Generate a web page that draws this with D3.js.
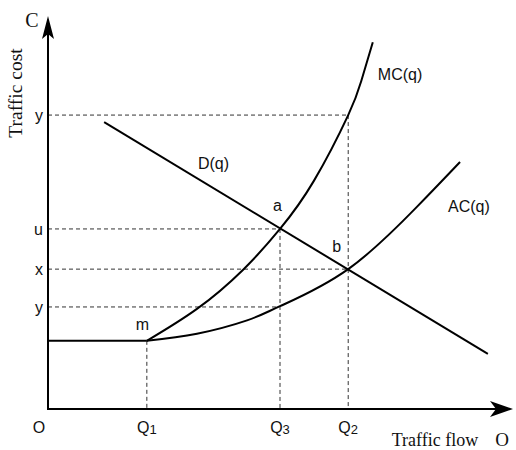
<!DOCTYPE html>
<html><head><meta charset="utf-8">
<script src="https://cdn.jsdelivr.net/npm/d3@7"></script>
<style>body{margin:0;background:#fff}svg{display:block}</style>
</head><body>
<svg id="c" width="516" height="450"></svg>
<script>
// ---- data (abstract units, x: 0..100 flow, y: 0..100 cost) ----
const flatLine = [[0, 17.3], [21.3, 17.3]];
const mcCurve = [[21.3,17.3],[32.1,25.4],[42.0,35.3],[50.0,45.7],[57.3,57.9],[64.7,74.6],[67.5,83.2],[70.0,93.1]];
const acCurve = [[21.3,17.3],[32.1,19.1],[42.9,22.5],[50.0,26.1],[64.7,35.5],[79.5,51.3],[88.8,62.7]];
const demandLine = [[12.1,72.8],[94.8,14.0]];
const yTickValues = [74.6, 45.7, 35.5, 25.9];
const yTickLabels = ["y", "u", "x", "y"];
const xTickValues = [21.3, 50.0, 64.7];
const xTickMain = ["Q", "Q", "Q"];
const xTickSub = ["1", "3", "2"];
// dashed guides: horizontal [y, xEnd], vertical [x, yTop]
const hGuides = [[74.6, 64.7], [45.7, 50.0], [35.5, 64.7], [25.9, 49.2]];
const vGuides = [[21.3, 17.3], [50.0, 45.7], [64.7, 74.6]];
const pointLabels = [
  {t:"m", x:21.3, y:17.3, dx:-11, dy:-11},
  {t:"a", x:50.0, y:45.7, dx:-7, dy:-18},
  {t:"b", x:64.7, y:35.5, dx:-16, dy:-17},
  {t:"D(q)", x:33.6, y:59.9, dx:-6, dy:-4},
  {t:"MC(q)", x:70.0, y:93.1, dx:5, dy:38},
  {t:"AC(q)", x:88.8, y:62.7, dx:-12, dy:50}
];

const svg = d3.select("#c");
const x = d3.scaleLinear().domain([0, 100]).range([48, 512]);
const y = d3.scaleLinear().domain([0, 100]).range([409, 15]);

const sans = "'Liberation Sans', Arial, sans-serif";
const serif = "'Liberation Serif', 'Times New Roman', serif";

// dashed guides
svg.append("g").selectAll("line.h").data(hGuides).join("line")
  .attr("x1", x(0)).attr("x2", d => x(d[1]))
  .attr("y1", d => y(d[0])).attr("y2", d => y(d[0]))
  .attr("stroke", "#333").attr("stroke-width", 1).attr("stroke-dasharray", "4,3");
svg.append("g").selectAll("line.v").data(vGuides).join("line")
  .attr("x1", d => x(d[0])).attr("x2", d => x(d[0]))
  .attr("y1", d => y(d[1])).attr("y2", y(0))
  .attr("stroke", "#333").attr("stroke-width", 1).attr("stroke-dasharray", "4,3");

// axes (lines with arrows)
svg.append("line").attr("x1", x(0)).attr("y1", y(0)).attr("x2", x(0)).attr("y2", y(100)+10)
  .attr("stroke", "#000").attr("stroke-width", 2);
svg.append("line").attr("x1", x(0)-1).attr("y1", y(0)).attr("x2", x(100)-10).attr("y2", y(0))
  .attr("stroke", "#000").attr("stroke-width", 2);
// arrowheads
const ax = x(0), ay = y(100) + 1;
svg.append("path").attr("d", `M${ax},${ay} L${ax+6},${ay+23} L${ax},${ay+18} L${ax-6},${ay+23} Z`).attr("fill", "#000");
const bx = x(100) + 1, by = y(0);
svg.append("path").attr("d", `M${bx},${by} L${bx-23},${by-8} L${bx-17},${by} L${bx-23},${by+8} Z`).attr("fill", "#000");

// curves
const line = d3.line().x(d => x(d[0])).y(d => y(d[1]));
const curve = d3.line().x(d => x(d[0])).y(d => y(d[1])).curve(d3.curveNatural);
svg.append("path").attr("d", line(flatLine)).attr("fill", "none").attr("stroke", "#000").attr("stroke-width", 2);
svg.append("path").attr("d", line(demandLine)).attr("fill", "none").attr("stroke", "#000").attr("stroke-width", 2);
svg.append("path").attr("d", curve(mcCurve)).attr("fill", "none").attr("stroke", "#000").attr("stroke-width", 2);
svg.append("path").attr("d", curve(acCurve)).attr("fill", "none").attr("stroke", "#000").attr("stroke-width", 2);

// y tick labels
svg.append("g").selectAll("text").data(yTickValues).join("text")
  .attr("x", x(0) - 5).attr("y", d => y(d)).attr("dy", "0.35em")
  .attr("text-anchor", "end").attr("font-family", sans).attr("font-size", 16).attr("fill", "#111")
  .text((d, i) => yTickLabels[i]);

// x tick labels
const xt = svg.append("g").selectAll("text").data(xTickValues).join("text")
  .attr("x", d => x(d)).attr("y", y(0) + 24)
  .attr("text-anchor", "middle").attr("font-family", sans).attr("font-size", 16).attr("fill", "#111");
xt.append("tspan").text((d, i) => xTickMain[i]);
xt.append("tspan").attr("font-size", 13).attr("dy", 1).text((d, i) => xTickSub[i]);

// origin
svg.append("text").attr("x", 39).attr("y", y(0) + 24).attr("text-anchor", "middle")
  .attr("font-family", sans).attr("font-size", 16).attr("fill", "#111").text("O");

// axis titles
svg.append("text").attr("x", 32).attr("y", 27).attr("text-anchor", "middle")
  .attr("font-family", serif).attr("font-size", 20).attr("fill", "#111").text("C");
svg.append("text").attr("transform", "translate(22,93) rotate(-90)").attr("text-anchor", "middle")
  .attr("font-family", serif).attr("font-size", 19.5).attr("fill", "#111").text("Traffic cost");
svg.append("text").attr("x", 435).attr("y", 446).attr("text-anchor", "middle")
  .attr("font-family", serif).attr("font-size", 18).attr("fill", "#111").text("Traffic flow");
svg.append("text").attr("x", 502).attr("y", 446).attr("text-anchor", "middle")
  .attr("font-family", serif).attr("font-size", 19).attr("fill", "#111").text("O");

// point / curve labels
svg.append("g").selectAll("text").data(pointLabels).join("text")
  .attr("x", d => x(d.x) + d.dx).attr("y", d => y(d.y) + d.dy)
  .attr("font-family", sans).attr("font-size", 16).attr("fill", "#111")
  .text(d => d.t);
</script>
</body></html>
